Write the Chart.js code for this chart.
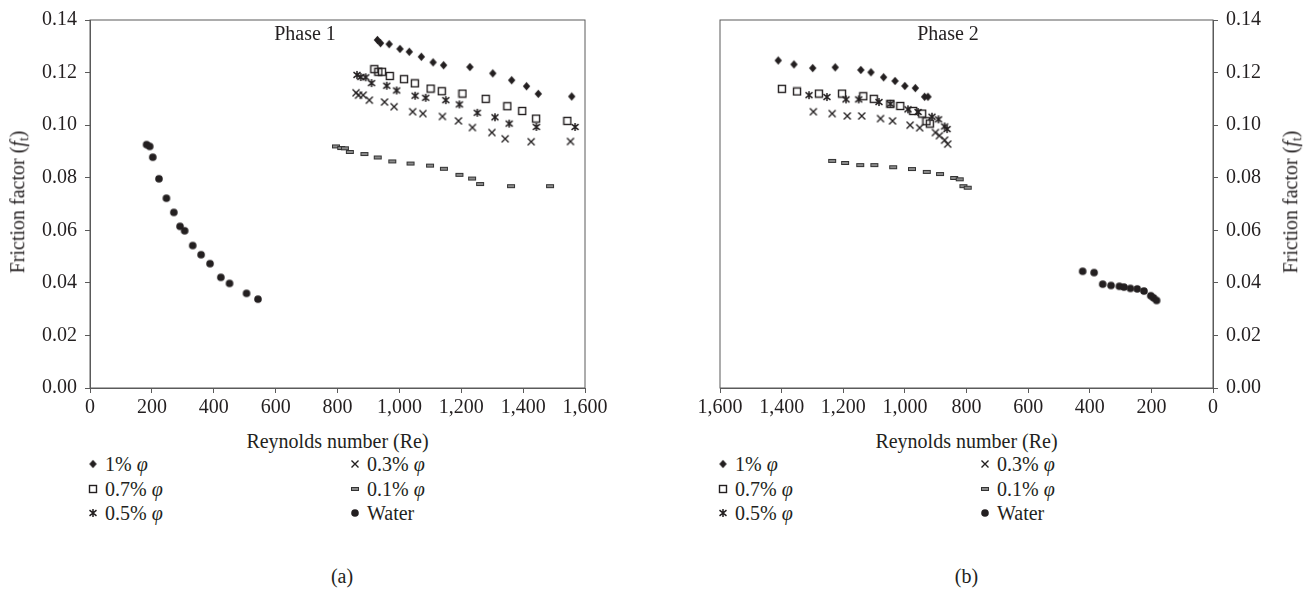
<!DOCTYPE html>
<html><head><meta charset="utf-8">
<script src="https://cdn.jsdelivr.net/npm/chart.js@4.4.0/dist/chart.umd.min.js"></script>
<style>
body{margin:0;background:#fff;width:1311px;height:592px;overflow:hidden;position:relative;font-family:"Liberation Serif","DejaVu Serif",serif;color:#231f20;}
canvas.chart{position:absolute;top:0;}
.t{position:absolute;font-size:20px;white-space:nowrap;transform:translate(-50%,-50%);line-height:1;}
.rot{transform:translate(-50%,-50%) rotate(-90deg);}
.lg{position:absolute;font-size:20px;white-space:nowrap;transform:translateY(-50%);line-height:1;}
.mk{position:absolute;transform:translate(-50%,-50%);}
sub{font-size:70%;vertical-align:-0.25em;}
</style>
</head><body>
<canvas id="c1" class="chart" width="650" height="420" style="left:0"></canvas>
<canvas id="c2" class="chart" width="656" height="420" style="left:655px"></canvas>
<div class="t rot" style="left:19px;top:202px">Friction factor (<i>f</i><sub>t</sub>)</div>
<div class="t rot" style="left:1292px;top:202px">Friction factor (<i>f</i><sub>t</sub>)</div>
<div class="t" style="left:305px;top:33px">Phase 1</div>
<div class="t" style="left:948px;top:33px">Phase 2</div>
<div class="t" style="left:337.5px;top:441px">Reynolds number (Re)</div>
<div class="t" style="left:966.5px;top:441px">Reynolds number (Re)</div>
<div class="t" style="left:342px;top:576px">(a)</div>
<div class="t" style="left:966.5px;top:576px">(b)</div>
<div id="legends"></div>
<script>
// ---------- data ----------
const seriesNames = ['1% φ', '0.7% φ', '0.5% φ', '0.3% φ', '0.1% φ', 'Water'];
const xTickValues = [0, 200, 400, 600, 800, 1000, 1200, 1400, 1600];
const yTickValues = [0, 0.02, 0.04, 0.06, 0.08, 0.10, 0.12, 0.14];

// Phase 1
const p1_re_1 = [929, 939, 967, 1002, 1032, 1071, 1109, 1143, 1228, 1302, 1363, 1411, 1449, 1557];
const p1_f_1  = [0.1324, 0.1312, 0.1308, 0.1290, 0.1279, 0.1260, 0.1239, 0.1228, 0.1221, 0.1197, 0.1171, 0.1148, 0.1119, 0.1109];
const p1_re_07 = [919, 932, 944, 969, 1015, 1050, 1101, 1137, 1204, 1279, 1349, 1397, 1442, 1543];
const p1_f_07  = [0.1213, 0.1203, 0.1203, 0.1187, 0.1175, 0.1159, 0.1139, 0.1129, 0.1120, 0.1100, 0.1072, 0.1054, 0.1025, 0.1016];
const p1_re_05 = [863, 875, 891, 910, 959, 991, 1051, 1085, 1150, 1194, 1252, 1309, 1355, 1443, 1568];
const p1_f_05  = [0.1191, 0.1183, 0.1182, 0.1160, 0.1150, 0.1132, 0.1112, 0.1104, 0.1095, 0.1079, 0.1047, 0.1030, 0.1006, 0.0993, 0.0993];
const p1_re_03 = [860, 868, 883, 903, 952, 983, 1043, 1076, 1139, 1191, 1236, 1299, 1342, 1426, 1553];
const p1_f_03  = [0.1123, 0.1114, 0.1114, 0.1095, 0.1088, 0.1070, 0.1051, 0.1044, 0.1033, 0.1016, 0.0991, 0.0972, 0.0948, 0.0937, 0.0938];
const p1_re_01 = [795, 812, 824, 840, 887, 930, 977, 1036, 1099, 1144, 1194, 1235, 1261, 1361, 1487];
const p1_f_01  = [0.0919, 0.0913, 0.0912, 0.0898, 0.0890, 0.0877, 0.0862, 0.0854, 0.0846, 0.0834, 0.0811, 0.0797, 0.0776, 0.0768, 0.0768];
const p1_re_w = [183, 193, 203, 223, 247, 271, 291, 306, 332, 359, 388, 423, 451, 506, 543];
const p1_f_w  = [0.0926, 0.0919, 0.0878, 0.0796, 0.0722, 0.0668, 0.0615, 0.0598, 0.0542, 0.0507, 0.0473, 0.0421, 0.0398, 0.0360, 0.0338];

// Phase 2
const p2_re_1 = [1411, 1360, 1299, 1226, 1143, 1110, 1069, 1032, 1000, 966, 936, 925];
const p2_f_1  = [0.1246, 0.1231, 0.1217, 0.1220, 0.1210, 0.1201, 0.1182, 0.1168, 0.1149, 0.1141, 0.1108, 0.1108];
const p2_re_07 = [1399, 1350, 1279, 1204, 1135, 1101, 1047, 1015, 973, 944, 930, 919];
const p2_f_07  = [0.1138, 0.1128, 0.1120, 0.1120, 0.1110, 0.1100, 0.1081, 0.1073, 0.1054, 0.1044, 0.1015, 0.1006];
const p2_re_05 = [1311, 1253, 1191, 1150, 1084, 1047, 990, 957, 912, 891, 871, 863];
const p2_f_05  = [0.1114, 0.1107, 0.1098, 0.1098, 0.1088, 0.1081, 0.1060, 0.1050, 0.1032, 0.1022, 0.0995, 0.0985];
const p2_re_03 = [1297, 1236, 1187, 1140, 1079, 1040, 983, 952, 901, 888, 871, 861];
const p2_f_03  = [0.1051, 0.1044, 0.1035, 0.1035, 0.1025, 0.1016, 0.1000, 0.0990, 0.0972, 0.0960, 0.0943, 0.0928];
const p2_re_01 = [1236, 1194, 1145, 1099, 1038, 977, 929, 886, 840, 822, 810, 796];
const p2_f_01  = [0.0864, 0.0856, 0.0848, 0.0848, 0.0840, 0.0833, 0.0822, 0.0814, 0.0799, 0.0794, 0.0768, 0.0762];
const p2_re_w = [423, 386, 358, 331, 304, 289, 268, 246, 224, 202, 193, 183];
const p2_f_w  = [0.0444, 0.0439, 0.0395, 0.0390, 0.0387, 0.0384, 0.0379, 0.0377, 0.0369, 0.0351, 0.0343, 0.0333];

// ---------- styling ----------
const FONT = '"Liberation Serif", "DejaVu Serif", serif';
const TXT = '#231f20';
const AX = '#5a5a5a';
const INK = '#231f20';
const TICK_FONT = 20;

function mkCanvas(w, h, draw) {
  const c = document.createElement('canvas');
  c.width = w; c.height = h;
  const g = c.getContext('2d');
  draw(g);
  return c;
}
const markers = [
  mkCanvas(9, 10, g => { g.fillStyle = INK; g.beginPath(); g.moveTo(4.5, 0.8); g.lineTo(8.2, 5); g.lineTo(4.5, 9.2); g.lineTo(0.8, 5); g.closePath(); g.fill(); }),
  mkCanvas(10, 10, g => { g.strokeStyle = INK; g.lineWidth = 1.4; g.strokeRect(1.5, 1.5, 7, 7); }),
  mkCanvas(10, 10, g => { g.strokeStyle = INK; g.lineWidth = 1.5; g.beginPath(); g.moveTo(1.5, 2.2); g.lineTo(8.5, 7.8); g.moveTo(1.5, 7.8); g.lineTo(8.5, 2.2); g.moveTo(5, 1); g.lineTo(5, 9); g.stroke(); }),
  mkCanvas(10, 10, g => { g.strokeStyle = INK; g.lineWidth = 1.4; g.beginPath(); g.moveTo(1.5, 1.5); g.lineTo(8.5, 8.5); g.moveTo(1.5, 8.5); g.lineTo(8.5, 1.5); g.stroke(); }),
  mkCanvas(10, 6, g => { g.fillStyle = '#8a8a8a'; g.fillRect(1.5, 1.5, 7, 3); g.strokeStyle = '#333'; g.lineWidth = 1; g.strokeRect(1.5, 1.5, 7, 3); }),
  mkCanvas(10, 10, g => { g.fillStyle = INK; g.beginPath(); g.arc(5, 5, 3.8, 0, Math.PI * 2); g.fill(); })
];

const pts = (re, f) => re.map((x, i) => ({ x: x, y: f[i] }));

const frame = {
  id: 'frame',
  beforeDatasetsDraw(chart) {
    const a = chart.chartArea, g = chart.ctx;
    g.save(); g.strokeStyle = AX; g.lineWidth = 1;
    g.strokeRect(a.left, a.top, a.right - a.left, a.bottom - a.top);
    g.restore();
  }
};

function makeChart(id, sets, reverse, yPos, padding, yWidth) {
  return new Chart(document.getElementById(id), {
    type: 'scatter',
    data: {
      datasets: sets.map((s, i) => ({
        label: seriesNames[i], data: pts(s[0], s[1]),
        pointStyle: markers[i], pointRadius: 4, showLine: false
      }))
    },
    options: {
      responsive: false, animation: false, events: [],
      layout: { padding: padding },
      plugins: { legend: { display: false }, tooltip: { enabled: false } },
      scales: {
        x: {
          type: 'linear', min: 0, max: 1600, reverse: reverse,
          afterBuildTicks: a => { a.ticks = xTickValues.map(v => ({ value: v })); },
          afterFit: a => { a.height = 32; },
          grid: { drawOnChartArea: false, drawTicks: true, tickLength: 5, color: AX, lineWidth: 1 },
          border: { display: true, color: AX, width: 1 },
          ticks: { color: TXT, font: { family: FONT, size: TICK_FONT }, padding: 3, maxRotation: 0, autoSkip: false,
                   callback: v => v.toLocaleString('en-US') }
        },
        y: {
          type: 'linear', position: yPos, min: 0, max: 0.14,
          afterBuildTicks: a => { a.ticks = yTickValues.map(v => ({ value: v })); },
          afterFit: a => { a.width = yWidth; },
          grid: { drawOnChartArea: false, drawTicks: true, tickLength: 5, color: AX, lineWidth: 1 },
          border: { display: true, color: AX, width: 1 },
          ticks: { color: TXT, font: { family: FONT, size: TICK_FONT }, padding: 8, callback: v => v.toFixed(2) }
        }
      }
    },
    plugins: [frame]
  });
}

makeChart('c1', [[p1_re_1, p1_f_1], [p1_re_07, p1_f_07], [p1_re_05, p1_f_05], [p1_re_03, p1_f_03], [p1_re_01, p1_f_01], [p1_re_w, p1_f_w]],
  false, 'left', { left: 0, top: 16, right: 65, bottom: 0 }, 90);
makeChart('c2', [[p2_re_1, p2_f_1], [p2_re_07, p2_f_07], [p2_re_05, p2_f_05], [p2_re_03, p2_f_03], [p2_re_01, p2_f_01], [p2_re_w, p2_f_w]],
  true, 'right', { left: 65, top: 16, right: 0, bottom: 0 }, 98);

// ---------- legends ----------
const legendRowsY = [464, 489, 513];
const legendPanels = [90, 720];
const lg = document.getElementById('legends');
legendPanels.forEach(px => {
  seriesNames.forEach((name, i) => {
    const col = i < 3 ? 0 : 1, row = i % 3;
    const mx = px + (col === 0 ? 3 : 265);
    const y = legendRowsY[row];
    const m = markers[i];
    const c = document.createElement('canvas');
    c.width = m.width; c.height = m.height; c.className = 'mk';
    c.getContext('2d').drawImage(m, 0, 0);
    c.style.left = mx + 'px'; c.style.top = y + 'px';
    lg.appendChild(c);
    const t = document.createElement('div');
    t.className = 'lg';
    t.style.left = (mx + 12) + 'px'; t.style.top = y + 'px';
    if (name === 'Water') t.textContent = name;
    else t.innerHTML = name.replace('φ', '<i>φ</i>');
    lg.appendChild(t);
  });
});
</script>
</body></html>
